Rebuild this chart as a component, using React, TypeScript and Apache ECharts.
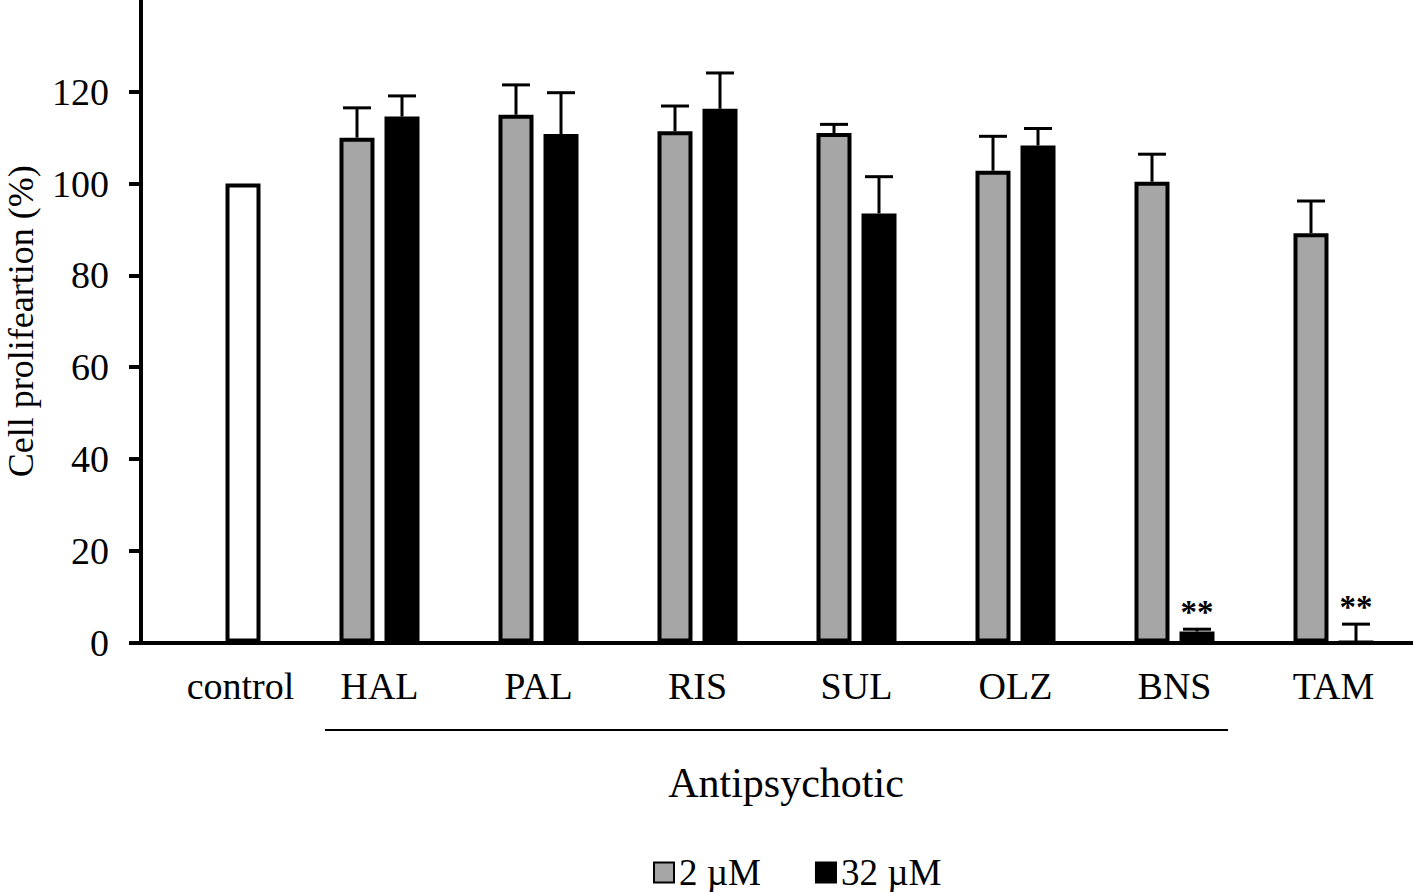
import React, { useEffect, useRef } from "react";
import * as echarts from "echarts";

const categories = ["control", "HAL", "PAL", "RIS", "SUL", "OLZ", "BNS", "TAM"];
const controlValues: (number | null)[] = [100, null, null, null, null, null, null, null];
const lowDose: (number | null)[] = [null, 110.0, 115.0, 111.4, 111.0, 102.8, 100.4, 89.2];
const lowDoseErr: (number | null)[] = [null, 6.5, 6.5, 5.5, 1.9, 7.5, 6.0, 7.0];
const highDose: (number | null)[] = [null, 114.6, 110.8, 116.3, 93.5, 108.3, 2.4, 0];
const highDoseErr: (number | null)[] = [null, 4.5, 9.0, 7.8, 8.0, 3.7, 0.5, 4.0];
const highDoseSig: string[] = ["", "", "", "", "", "", "**", "**"];
const yTicks = [0, 20, 40, 60, 80, 100, 120];
const seriesNames = ["2 µM", "32 µM"];

const FONT = '"Liberation Serif", "Times New Roman", serif';
const BAR_W = 35;
const BAR_GAP_PX = 10;
const OFFSET = (BAR_W + BAR_GAP_PX) / 2;

function errorSeries(values: (number | null)[], errs: (number | null)[], sigs: string[] | null, sign: number) {
  const items: { v: number[]; sig: string }[] = [];
  values.forEach((v, i) => {
    const e = errs[i];
    if (v !== null && e !== null) items.push({ v: [i, v, e], sig: sigs ? sigs[i] : "" });
  });
  return {
    type: "custom",
    coordinateSystem: "cartesian2d",
    z: 5,
    silent: true,
    data: items.map((it) => it.v),
    encode: { x: 0, y: 1 },
    renderItem: (params: any, api: any) => {
      const i = api.value(0);
      const v = api.value(1);
      const e = api.value(2);
      const p0 = api.coord([i, v]);
      const p1 = api.coord([i, v + e]);
      const x = p0[0] + sign * OFFSET;
      const children: any[] = [
        { type: "line", shape: { x1: x, y1: p0[1], x2: x, y2: p1[1] }, style: { stroke: "#000", lineWidth: 3 } },
        { type: "line", shape: { x1: x - 14, y1: p1[1], x2: x + 14, y2: p1[1] }, style: { stroke: "#000", lineWidth: 3 } },
      ];
      const sig = items[params.dataIndex].sig;
      if (sig) {
        children.push({
          type: "text",
          x: x,
          y: p1[1] - 17,
          style: {
            text: sig,
            fontSize: 33,
            fontWeight: "bold",
            fontFamily: FONT,
            fill: "#000",
            align: "center",
            verticalAlign: "middle",
          },
        });
      }
      return { type: "group", children };
    },
  };
}

export default function App() {
  const ref = useRef<HTMLDivElement>(null);
  useEffect(() => {
    if (!ref.current) return;
    const chart = echarts.init(ref.current, null, { renderer: "svg" });
    const gapPct = ((BAR_GAP_PX / BAR_W) * 100).toFixed(1) + "%";
    const option: any = {
      animation: false,
      backgroundColor: "#fff",
      grid: { left: 141, right: 0, top: 0, bottom: 249.5, containLabel: false, outerBoundsMode: "none" },
      legend: {
        data: seriesNames,
        left: 648,
        top: 849,
        itemWidth: 20,
        itemHeight: 20,
        itemGap: 54,
        icon: "rect",
        textStyle: { fontSize: 37, lineHeight: 36, fontFamily: FONT, color: "#000" },
      },
      xAxis: {
        type: "category",
        data: categories,
        axisLine: { show: true, lineStyle: { color: "#000", width: 4 } },
        axisTick: { show: false },
        axisLabel: {
          interval: 0,
          margin: 24,
          fontSize: 38,
          fontFamily: FONT,
          color: "#000",
          formatter: (val: string, idx: number) => (idx === 0 ? "{c|" + val + "}" : val),
          rich: { c: { fontSize: 38, fontFamily: FONT, color: "#000", padding: [0, 0, 0, 40] } },
        },
      },
      yAxis: {
        type: "value",
        min: 0,
        max: 140,
        interval: 20,
        name: "Cell prolifeartion (%)",
        nameLocation: "middle",
        nameGap: 104,
        nameTextStyle: { fontSize: 36, lineHeight: 32, fontFamily: FONT, color: "#000" },
        axisLine: { show: true, lineStyle: { color: "#000", width: 4 } },
        axisTick: { show: true, length: 12, lineStyle: { color: "#000", width: 4 }, customValues: yTicks },
        axisLabel: { margin: 32, fontSize: 38, fontFamily: FONT, color: "#000", customValues: yTicks },
        splitLine: { show: false },
      },
      series: [
        {
          name: seriesNames[0],
          type: "bar",
          barWidth: BAR_W,
          barGap: gapPct,
          data: lowDose.map((v) => (v === null ? "-" : v)),
          itemStyle: { color: "#a6a6a6", borderColor: "#000", borderWidth: 4 },
        },
        {
          name: seriesNames[1],
          type: "bar",
          stack: "high",
          barWidth: BAR_W,
          barGap: gapPct,
          data: highDose.map((v) => (v === null ? "-" : v)),
          itemStyle: { color: "#000", borderColor: "#000", borderWidth: 4 },
        },
        {
          name: "control",
          type: "bar",
          stack: "high",
          barWidth: BAR_W,
          barGap: gapPct,
          data: controlValues.map((v) => (v === null ? "-" : v)),
          itemStyle: { color: "#fff", borderColor: "#000", borderWidth: 4 },
        },
        errorSeries(lowDose, lowDoseErr, null, -1),
        errorSeries(highDose, highDoseErr, highDoseSig, 1),
      ],
      graphic: [
        { type: "line", shape: { x1: 325, y1: 730, x2: 1228, y2: 730 }, style: { stroke: "#000", lineWidth: 2 } },
        {
          type: "text",
          x: 786,
          y: 783,
          style: { text: "Antipsychotic", fontSize: 42, fontFamily: FONT, fill: "#000", align: "center", verticalAlign: "middle" },
        },
      ],
    };
    chart.setOption(option);
    return () => chart.dispose();
  }, []);
  return (
    <div
      ref={ref}
      style={{ position: "absolute", left: 0, top: 0, width: 1413, height: 892, background: "#fff" }}
    />
  );
}
